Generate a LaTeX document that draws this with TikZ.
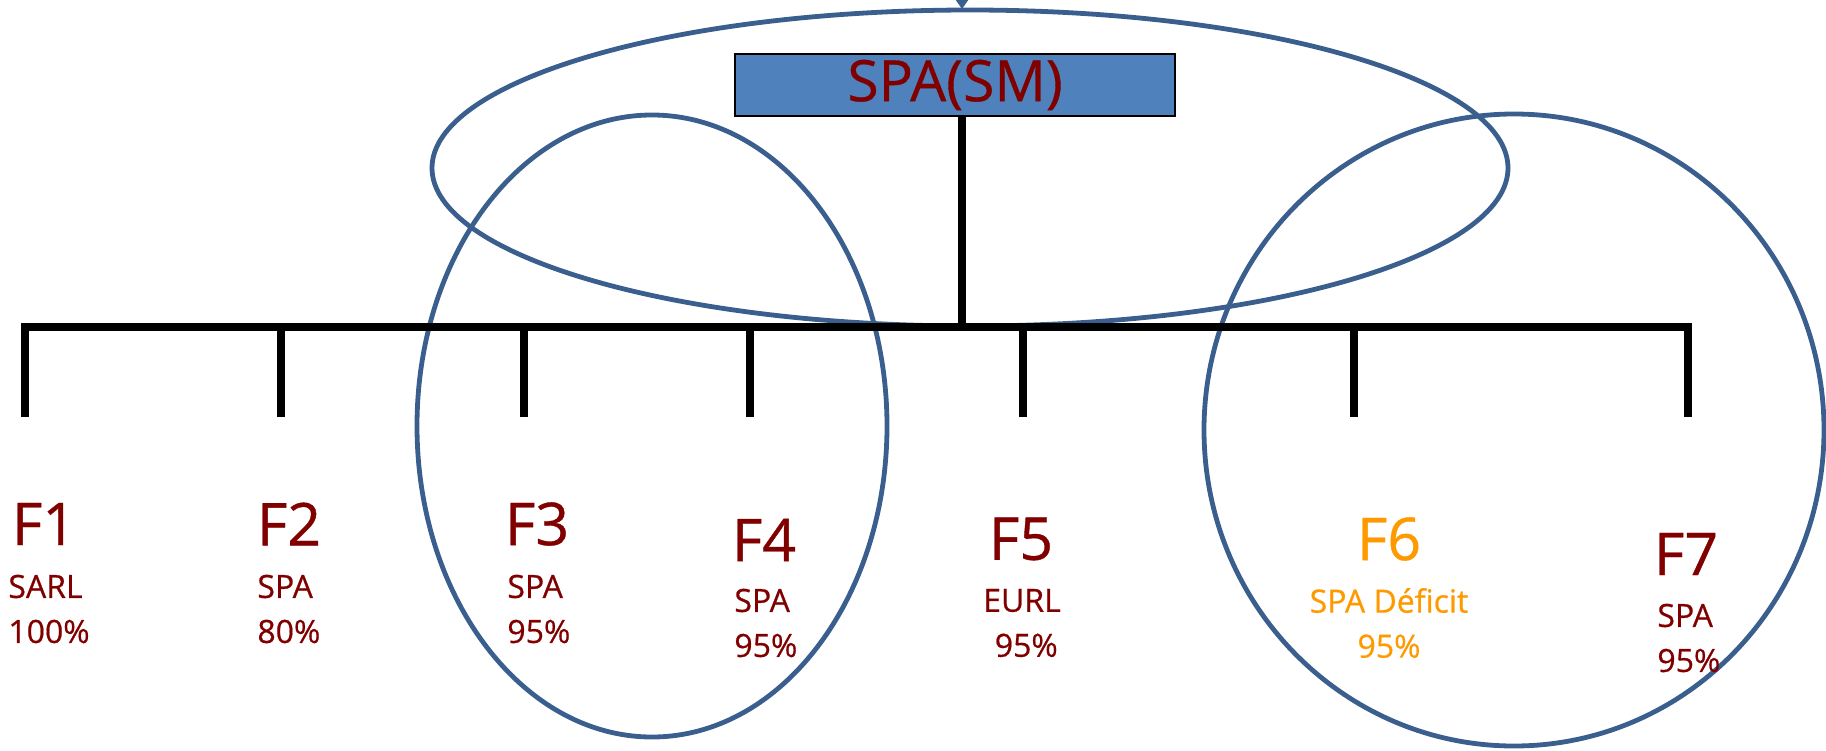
\documentclass[tikz,border=0pt]{standalone}
\usepackage{fontspec}
\setmainfont{Open Sans}[BoldFont=Open Sans, BoldFeatures={FakeBold=0.6}]
\usetikzlibrary{arrows.meta}
\definecolor{dred}{RGB}{128,0,0}
\definecolor{orng}{RGB}{255,153,0}
\definecolor{eblue}{RGB}{58,95,142}
\definecolor{bfill}{RGB}{79,129,189}
\begin{document}
\begin{tikzpicture}[x=0.5pt,y=-0.5pt,
  bar/.style={line width=4pt, draw=black},
  ring/.style={draw=eblue, line width=2.4pt},
  flabel/.style={text=dred, font=\fontsize{29.5}{36}\selectfont\bfseries, inner sep=0pt},
  sublabel/.style={text=dred, font=\fontsize{16}{22.5}\selectfont\bfseries, inner sep=0pt},
  smbox/.style={draw=black, line width=0.9pt, fill=bfill, minimum width=220pt, minimum height=31pt, inner sep=0pt, text=dred, font=\fontsize{28.5}{34}\selectfont\bfseries}]
\useasboundingbox (0,0) rectangle (1826,750);

% ellipses
\draw[ring] (970,168) ellipse [x radius=538, y radius=158];
\draw[ring] (652,426) ellipse [x radius=235, y radius=311];
\draw[ring] (1514,430) ellipse [x radius=310, y radius=316];

% top box
\node[smbox] (sm) at (955,85) {SPA(SM)};

% top arrow
\coordinate (arrtop) at (962,0);
\coordinate (arrbot) at (962,9);
\draw[eblue, line width=1pt, -{Triangle[width=6pt,length=4.5pt]}] (arrtop) -- (arrbot);

% bus
\coordinate (busL) at (21,327);
\coordinate (busR) at (1692,327);
\coordinate (tk) at (962,327);
\draw[bar] (busL) -- (busR);
\draw[bar] (sm.south -| tk) -- (tk);

% drops
\foreach \n/\x in {1/25,2/281,3/524,4/750,5/1023,6/1354,7/1688}{
  \coordinate (d\n) at (\x,417);
  \coordinate (u\n) at (\x,323);
  \draw[bar] (u\n) -- (d\n);
}

% labels
\node[flabel] (f1) at (44,524) {F1};
\node[flabel] (f2) at (289,524) {F2};
\node[flabel] (f3) at (537,524) {F3};
\node[flabel] (f4) at (764,540) {F4};
\node[flabel] (f5) at (1021,539) {F5};
\node[flabel, text=orng] (f6) at (1389,539) {F6};
\node[flabel] (f7) at (1686,554) {F7};

\node[sublabel, align=left, anchor=west] (s1) at (8,609) {SARL\\100\%};
\node[sublabel, align=left, anchor=west] (s2) at (257,609) {SPA\\80\%};
\node[sublabel, align=left, anchor=west] (s3) at (507,609) {SPA\\95\%};
\node[sublabel, align=left, anchor=west] (s4) at (734,623) {SPA\\95\%};
\node[sublabel, align=center] (s5) at (1022,623) {EURL\\\hphantom{.}95\%};
\node[sublabel, align=center, text=orng] (s6) at (1389,623) {SPA Déficit\\95\%};
\node[sublabel, align=left, anchor=west] (s7) at (1657,638) {SPA\\95\%};
\end{tikzpicture}
\end{document}
